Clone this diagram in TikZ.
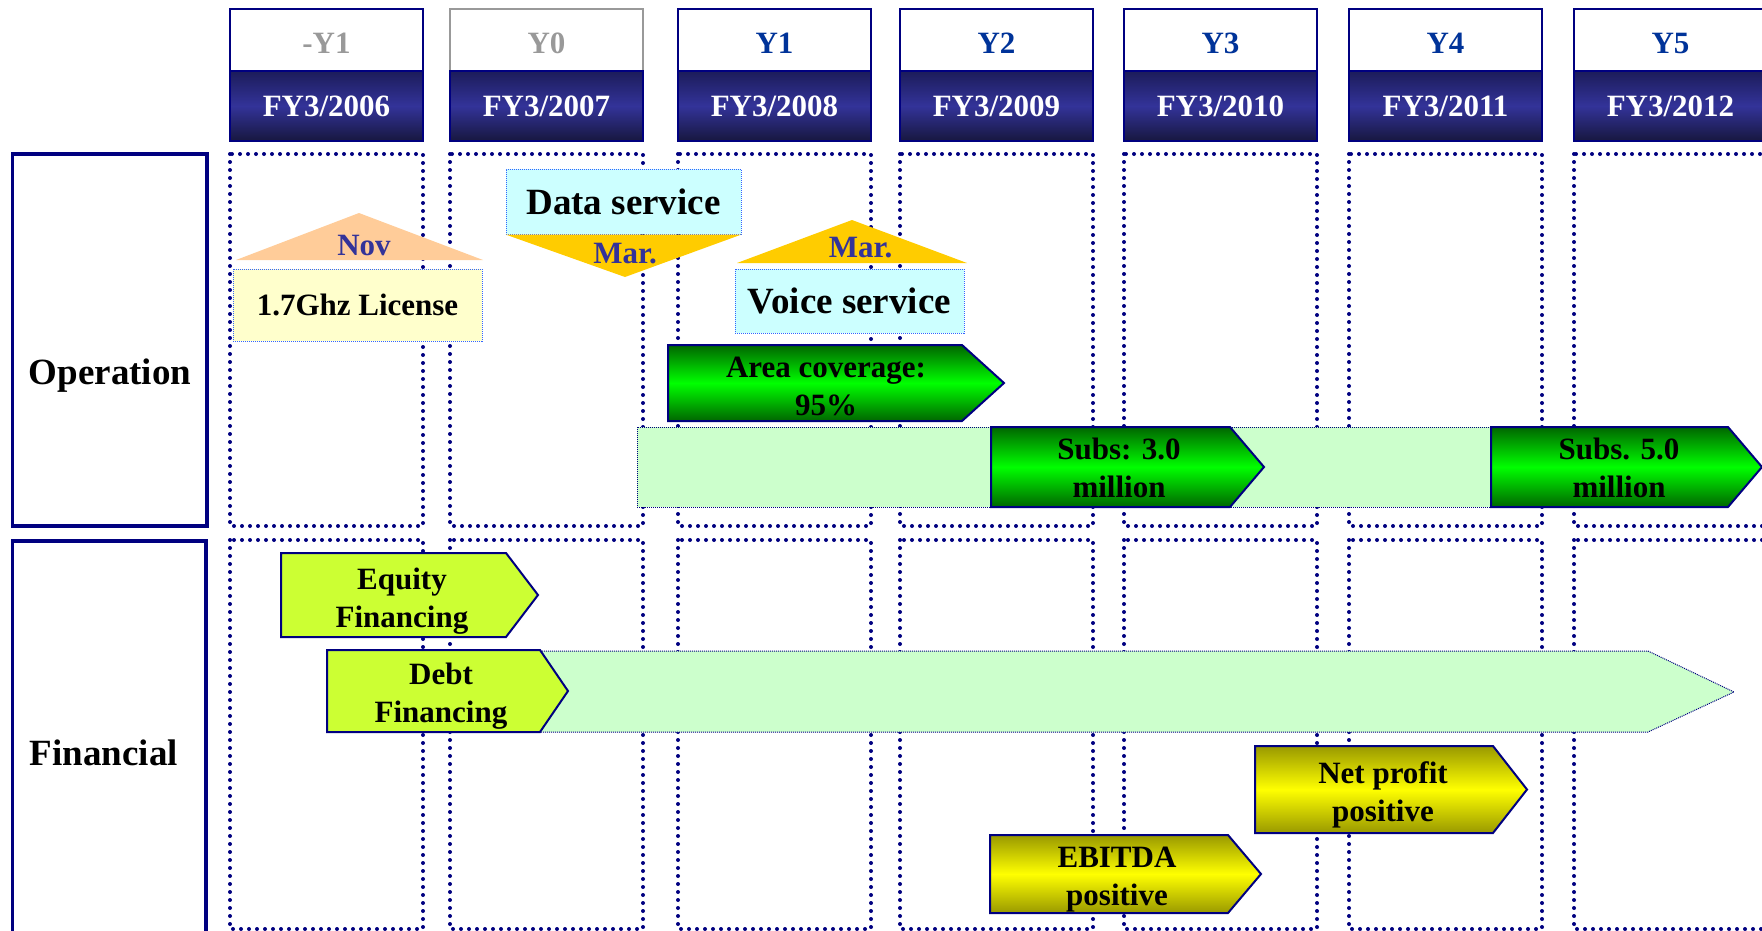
\documentclass[tikz,border=0pt]{standalone}
\usepackage{fontspec}
\setmainfont{Liberation Serif}
\usepackage{xcolor}
\usepackage{tikz}
\usetikzlibrary{calc}

\definecolor{navy}{HTML}{000080}
\definecolor{fyblue}{HTML}{333399}
\definecolor{fytop}{HTML}{1C1C5A}
\definecolor{fybot}{HTML}{17173F}
\definecolor{yrblue}{HTML}{003399}
\definecolor{yrgray}{HTML}{999999}
\definecolor{peach}{HTML}{FFCC99}
\definecolor{gold}{HTML}{FFCC00}
\definecolor{notecyan}{HTML}{CCFFFF}
\definecolor{noteyellow}{HTML}{FFFFCC}
\definecolor{noteblue}{HTML}{3366FF}
\definecolor{bandgreen}{HTML}{CCFFCC}
\definecolor{limefill}{HTML}{CCFF33}
\definecolor{darkgreen}{HTML}{006600}
\definecolor{brightgreen}{HTML}{00FF00}
\definecolor{oliveshade}{HTML}{999900}
\definecolor{brightyellow}{HTML}{FFFF00}

\begin{document}
\begin{tikzpicture}[x=1pt, y=-1pt,
  every node/.style={font=\bfseries\fontsize{31}{38}\selectfont, align=center, inner sep=0pt},
  heading/.style={font=\bfseries\fontsize{37}{44}\selectfont},
  yearbox/.style={draw, line width=1.5pt, fill=white, minimum width=193, minimum height=68},
  fybox/.style={draw=navy, line width=1.5pt, top color=fytop, bottom color=fybot, middle color=fyblue, text=white, minimum width=193, minimum height=70},
  colbox/.style={navy, line width=4pt, line cap=round, dash pattern=on 0pt off 8pt},
  rowlabel/.style={draw=navy, line width=3.5pt},
  note/.style={draw=noteblue, line width=1pt, densely dotted},
  band/.style={draw=navy, fill=bandgreen, line width=1pt, densely dotted},
  greentag/.style={draw=navy, line width=2pt, top color=darkgreen, bottom color=darkgreen, middle color=brightgreen},
  yellowtag/.style={draw=navy, line width=2pt, top color=oliveshade, bottom color=oliveshade, middle color=brightyellow},
  limetag/.style={draw=navy, line width=2pt, fill=limefill},
  marker/.style={text=fyblue}]

\useasboundingbox (0,0) rectangle (1762,930);

\foreach \x/\lbl/\fy/\tc/\bc [count=\i] in {230/-Y1/2006/yrgray/navy, 450/Y0/2007/yrgray/yrgray, 678/Y1/2008/yrblue/navy, 900/Y2/2009/yrblue/navy, 1124/Y3/2010/yrblue/navy, 1349/Y4/2011/yrblue/navy, 1574/Y5/2012/yrblue/navy}{
  \node(yr\i)[yearbox, draw=\bc, text=\tc] at (\x+96.5,43) {\lbl};
  \node(fy\i)[fybox] at (\x+96.5,106) {FY3/\fy};
  \draw[colbox] (\x,154) rectangle +(193,372);
  \draw[colbox] (\x,540) rectangle +(193,389);
}

\draw[rowlabel] (12.5,154) rectangle (207,526);
\node(optext)[heading] at (110,375.5) {Operation};
\draw[rowlabel] (12.5,541) rectangle (206,960);
\node(fintext)[heading] at (104,752.5) {Financial};

\fill[peach] (236,260) -- (359,213) -- (483,260) -- cycle;
\node(nov)[marker] at (364,245.5) {Nov};
\node(lic)[note, fill=noteyellow, minimum width=249, minimum height=72] at (357.5,305) {1.7Ghz License};

\node(data)[note, heading, fill=notecyan, minimum width=235, minimum height=65] at (623.5,201.5) {Data service};
\fill[gold] (data.south west) -- (data.south east) -- (625,277) -- cycle;
\node(mar1)[marker] at (625,253.5) {Mar.};
\fill[gold] (737,263) -- (852,220) -- (967,263) -- cycle;
\node(mar2)[marker] at (860.5,248) {Mar.};
\node(voice)[note, heading, fill=notecyan, minimum width=229, minimum height=64] at (849.5,301) {Voice service};

\draw[greentag] (668,345) -- (962,345) -- (1004,383) -- (962,421) -- (668,421) -- cycle;
\node(area) at (826,386) {Area coverage:\\95\%};

\draw[band] (637,427) rectangle (1700,507);
\draw[greentag] (991,427) -- (1230,427) -- (1264,467) -- (1230,507) -- (991,507) -- cycle;
\node(subs3) at (1119,467.5) {Subs: 3.0\\million};
\draw[greentag] (1491,427) -- (1728,427) -- (1762,467) -- (1728,507) -- (1491,507) -- cycle;
\node(subs5) at (1619,467.5) {Subs. 5.0\\million};

\draw[limetag] (281,553) -- (506,553) -- (538,595) -- (506,637) -- (281,637) -- cycle;
\node(equity) at (402,601) {Equity\\Financing};
\draw[band] (540,651) -- (1648,651) -- (1734,692) -- (1648,732) -- (540,732) -- cycle;
\draw[limetag] (327,650) -- (540,650) -- (568,691) -- (540,732) -- (327,732) -- cycle;
\node(debt) at (441,696) {Debt\\Financing};

\draw[yellowtag] (1255,746) -- (1493,746) -- (1527,789.5) -- (1493,833) -- (1255,833) -- cycle;
\node(netprofit) at (1383,794.5) {Net profit\\positive};
\draw[yellowtag] (990,835) -- (1228,835) -- (1261,874) -- (1228,913) -- (990,913) -- cycle;
\node(ebitda) at (1117,879.5) {EBITDA\\positive};
\end{tikzpicture}
\end{document}
